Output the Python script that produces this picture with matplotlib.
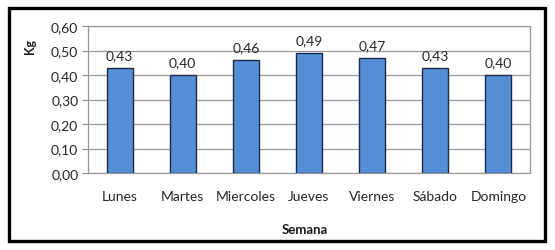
import matplotlib
matplotlib.use("Agg")
import matplotlib.pyplot as plt
from matplotlib.patches import Rectangle

days = ["Lunes", "Martes", "Miercoles", "Jueves", "Viernes", "Sábado", "Domingo"]
kg = [0.43, 0.40, 0.46, 0.49, 0.47, 0.43, 0.40]
yticks = [0.0, 0.1, 0.2, 0.3, 0.4, 0.5, 0.6]

plt.rcParams['font.family'] = ['Lato', 'DejaVu Sans']

fig = plt.figure(figsize=(5.55, 2.51), dpi=100)
fig.patch.set_facecolor('white')
ax = fig.add_axes([88/555, 1-174/251, 442/555, 147/251])

x = range(len(days))
ax.bar(x, kg, width=0.41, color='#558ED5', edgecolor='#1A2A48', linewidth=1.0, zorder=3)
for xi, v in zip(x, kg):
    ax.text(xi, v + 0.028, f"{v:.2f}".replace('.', ','), ha='center', va='bottom',
            fontsize=10, color='#262626')

ax.set_xlim(-0.5, len(days) - 0.5)
ax.set_ylim(0, 0.6)
ax.set_yticks(yticks)
ax.set_yticklabels([f"{t:.2f}".replace('.', ',') for t in yticks], fontsize=10, color='#262626')
ax.set_xticks(list(x))
ax.set_xticklabels(days, fontsize=10, color='#262626')
ax.tick_params(axis='x', length=0, pad=12)
ax.tick_params(axis='y', length=4, color='#888888', pad=3)
ax.yaxis.grid(True, color='#9A9A9A', linewidth=0.9, zorder=0)
for s in ax.spines.values():
    s.set_color('#9A9A9A')
    s.set_linewidth(0.9)

fig.text(30/555, 1-47/251, "Kg", rotation=90, ha='center', va='center',
         fontsize=9, fontweight='bold', color='#1a1a1a')
fig.text(305/555, 1-230/251, "Semana", ha='center', va='center',
         fontsize=9.5, fontweight='bold', color='#1a1a1a')

fig.patches.append(Rectangle((9/555, 1-242/251), 536/555, 233/251, transform=fig.transFigure,
                             fill=False, edgecolor='black', linewidth=2.4))

fig.savefig("out.png", dpi=100, facecolor='white')
